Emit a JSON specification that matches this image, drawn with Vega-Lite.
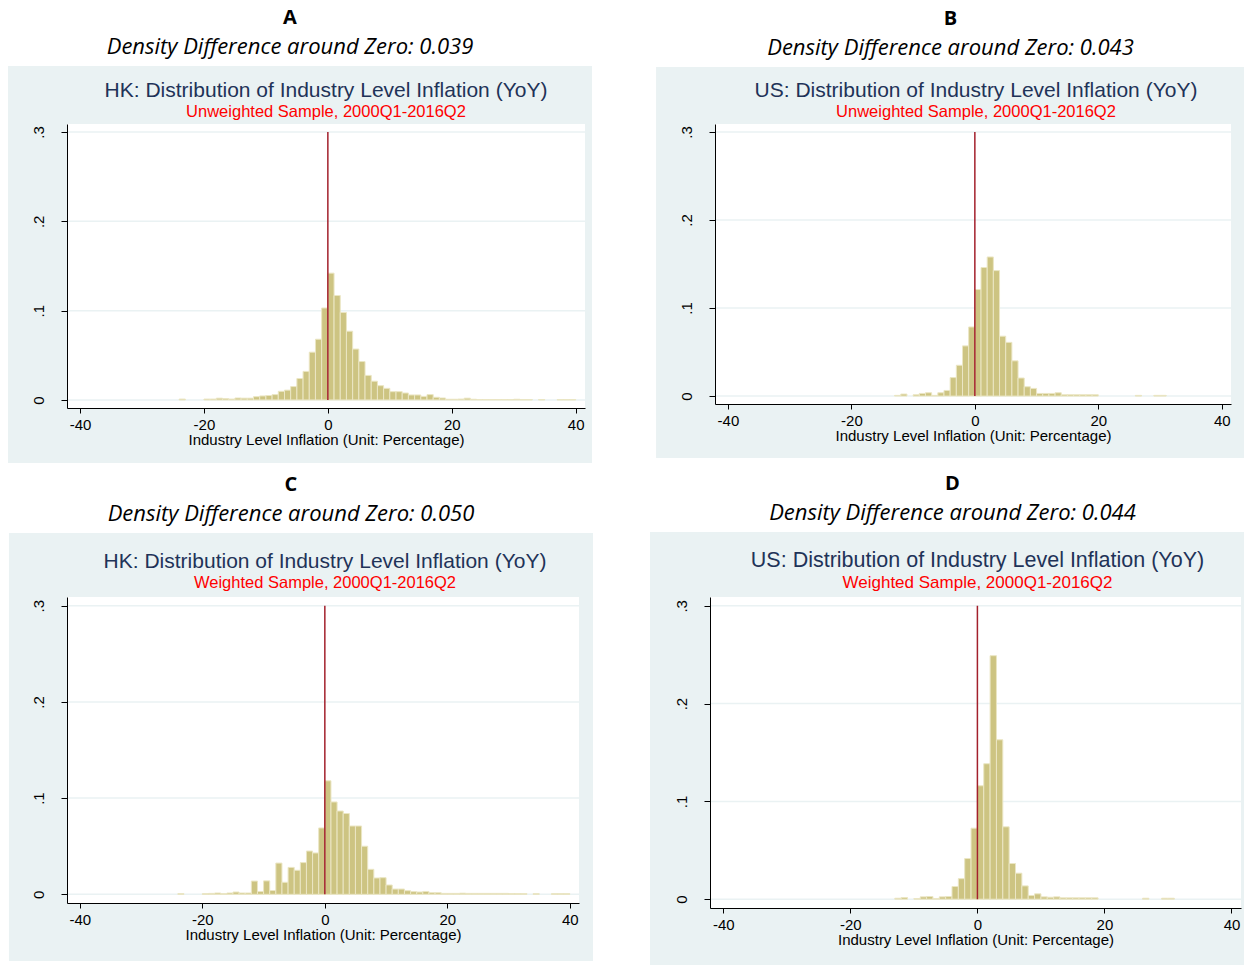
{
  "$schema": "https://vega.github.io/schema/vega-lite/v6.json",
  "background": "white",
  "padding": {"left": 8, "top": 8, "right": 0, "bottom": 0},
  "datasets": {
    "A": [
      {"lo":-24,"hi":-23,"d":0.001},{"lo":-20,"hi":-19,"d":0.001},{"lo":-19,"hi":-18,"d":0.001},{"lo":-18,"hi":-17,"d":0.002},{"lo":-17,"hi":-16,"d":0.0015},{"lo":-16,"hi":-15,"d":0.001},{"lo":-15,"hi":-14,"d":0.0022},{"lo":-14,"hi":-13,"d":0.002},{"lo":-13,"hi":-12,"d":0.002},{"lo":-12,"hi":-11,"d":0.0037},{"lo":-11,"hi":-10,"d":0.0045},{"lo":-10,"hi":-9,"d":0.005},{"lo":-9,"hi":-8,"d":0.006},{"lo":-8,"hi":-7,"d":0.0097},{"lo":-7,"hi":-6,"d":0.011},{"lo":-6,"hi":-5,"d":0.015},{"lo":-5,"hi":-4,"d":0.024},{"lo":-4,"hi":-3,"d":0.032},{"lo":-3,"hi":-2,"d":0.0535},{"lo":-2,"hi":-1,"d":0.068},{"lo":-1,"hi":0,"d":0.103},{"lo":0,"hi":1,"d":0.142},{"lo":1,"hi":2,"d":0.117},{"lo":2,"hi":3,"d":0.098},{"lo":3,"hi":4,"d":0.077},{"lo":4,"hi":5,"d":0.057},{"lo":5,"hi":6,"d":0.043},{"lo":6,"hi":7,"d":0.0275},{"lo":7,"hi":8,"d":0.021},{"lo":8,"hi":9,"d":0.016},{"lo":9,"hi":10,"d":0.013},{"lo":10,"hi":11,"d":0.0093},{"lo":11,"hi":12,"d":0.0093},{"lo":12,"hi":13,"d":0.0078},{"lo":13,"hi":14,"d":0.0056},{"lo":14,"hi":15,"d":0.0056},{"lo":15,"hi":16,"d":0.004},{"lo":16,"hi":17,"d":0.006},{"lo":17,"hi":18,"d":0.003},{"lo":18,"hi":19,"d":0.0022},{"lo":19,"hi":20,"d":0.0008},{"lo":20,"hi":21,"d":0.0008},{"lo":21,"hi":22,"d":0.001},{"lo":22,"hi":23,"d":0.002},{"lo":23,"hi":24,"d":0.0008},{"lo":24,"hi":25,"d":0.0005},{"lo":25,"hi":26,"d":0.0005},{"lo":26,"hi":27,"d":0.0005},{"lo":27,"hi":28,"d":0.0005},{"lo":28,"hi":29,"d":0.0005},{"lo":29,"hi":30,"d":0.0004},{"lo":30,"hi":31,"d":0.0008},{"lo":31,"hi":32,"d":0.0004},{"lo":32,"hi":33,"d":0.0004},{"lo":34,"hi":35,"d":0.0004},{"lo":37,"hi":38,"d":0.0004},{"lo":38,"hi":39,"d":0.0004},{"lo":39,"hi":40,"d":0.0004}
    ],
    "B": [
      {"lo":-13,"hi":-12,"d":0.0008},{"lo":-12,"hi":-11,"d":0.0023},{"lo":-10,"hi":-9,"d":0.0015},{"lo":-9,"hi":-8,"d":0.003},{"lo":-8,"hi":-7,"d":0.0038},{"lo":-7,"hi":-6,"d":0.0008},{"lo":-6,"hi":-5,"d":0.0038},{"lo":-5,"hi":-4,"d":0.0064},{"lo":-4,"hi":-3,"d":0.021},{"lo":-3,"hi":-2,"d":0.035},{"lo":-2,"hi":-1,"d":0.057},{"lo":-1,"hi":0,"d":0.0785},{"lo":0,"hi":1,"d":0.121},{"lo":1,"hi":2,"d":0.146},{"lo":2,"hi":3,"d":0.158},{"lo":3,"hi":4,"d":0.1425},{"lo":4,"hi":5,"d":0.068},{"lo":5,"hi":6,"d":0.061},{"lo":6,"hi":7,"d":0.04},{"lo":7,"hi":8,"d":0.0205},{"lo":8,"hi":9,"d":0.0106},{"lo":9,"hi":10,"d":0.0087},{"lo":10,"hi":11,"d":0.003},{"lo":11,"hi":12,"d":0.003},{"lo":12,"hi":13,"d":0.003},{"lo":13,"hi":14,"d":0.0038},{"lo":14,"hi":15,"d":0.0015},{"lo":15,"hi":16,"d":0.0015},{"lo":16,"hi":17,"d":0.0015},{"lo":17,"hi":18,"d":0.0015},{"lo":18,"hi":19,"d":0.0015},{"lo":19,"hi":20,"d":0.0015},{"lo":26,"hi":27,"d":0.0008},{"lo":29,"hi":30,"d":0.0008},{"lo":30,"hi":31,"d":0.0008}
    ],
    "C": [
      {"lo":-24,"hi":-23,"d":0.0007},{"lo":-20,"hi":-19,"d":0.0007},{"lo":-19,"hi":-18,"d":0.001},{"lo":-18,"hi":-17,"d":0.0014},{"lo":-17,"hi":-16,"d":0.0007},{"lo":-16,"hi":-15,"d":0.0014},{"lo":-15,"hi":-14,"d":0.0024},{"lo":-14,"hi":-13,"d":0.0014},{"lo":-13,"hi":-12,"d":0.0014},{"lo":-12,"hi":-11,"d":0.0138},{"lo":-11,"hi":-10,"d":0.003},{"lo":-10,"hi":-9,"d":0.014},{"lo":-9,"hi":-8,"d":0.004},{"lo":-8,"hi":-7,"d":0.0325},{"lo":-7,"hi":-6,"d":0.0125},{"lo":-6,"hi":-5,"d":0.028},{"lo":-5,"hi":-4,"d":0.025},{"lo":-4,"hi":-3,"d":0.033},{"lo":-3,"hi":-2,"d":0.045},{"lo":-2,"hi":-1,"d":0.043},{"lo":-1,"hi":0,"d":0.069},{"lo":0,"hi":1,"d":0.118},{"lo":1,"hi":2,"d":0.096},{"lo":2,"hi":3,"d":0.0866},{"lo":3,"hi":4,"d":0.084},{"lo":4,"hi":5,"d":0.071},{"lo":5,"hi":6,"d":0.071},{"lo":6,"hi":7,"d":0.05},{"lo":7,"hi":8,"d":0.026},{"lo":8,"hi":9,"d":0.017},{"lo":9,"hi":10,"d":0.0173},{"lo":10,"hi":11,"d":0.0097},{"lo":11,"hi":12,"d":0.0055},{"lo":12,"hi":13,"d":0.0055},{"lo":13,"hi":14,"d":0.0038},{"lo":14,"hi":15,"d":0.0028},{"lo":15,"hi":16,"d":0.0024},{"lo":16,"hi":17,"d":0.003},{"lo":17,"hi":18,"d":0.0017},{"lo":18,"hi":19,"d":0.0017},{"lo":19,"hi":20,"d":0.001},{"lo":20,"hi":21,"d":0.001},{"lo":21,"hi":22,"d":0.001},{"lo":22,"hi":23,"d":0.0012},{"lo":23,"hi":24,"d":0.001},{"lo":24,"hi":25,"d":0.001},{"lo":25,"hi":26,"d":0.001},{"lo":26,"hi":27,"d":0.001},{"lo":27,"hi":28,"d":0.001},{"lo":28,"hi":29,"d":0.001},{"lo":29,"hi":30,"d":0.001},{"lo":30,"hi":31,"d":0.0008},{"lo":31,"hi":32,"d":0.0008},{"lo":32,"hi":33,"d":0.0008},{"lo":34,"hi":35,"d":0.0007},{"lo":37,"hi":38,"d":0.0007},{"lo":38,"hi":39,"d":0.0007},{"lo":39,"hi":40,"d":0.0007}
    ],
    "D": [
      {"lo":-13,"hi":-12,"d":0.001},{"lo":-12,"hi":-11,"d":0.0017},{"lo":-10,"hi":-9,"d":0.0007},{"lo":-9,"hi":-8,"d":0.0024},{"lo":-8,"hi":-7,"d":0.0027},{"lo":-7,"hi":-6,"d":0.0007},{"lo":-6,"hi":-5,"d":0.0024},{"lo":-5,"hi":-4,"d":0.0027},{"lo":-4,"hi":-3,"d":0.013},{"lo":-3,"hi":-2,"d":0.021},{"lo":-2,"hi":-1,"d":0.0416},{"lo":-1,"hi":0,"d":0.0726},{"lo":0,"hi":1,"d":0.116},{"lo":1,"hi":2,"d":0.1385},{"lo":2,"hi":3,"d":0.249},{"lo":3,"hi":4,"d":0.163},{"lo":4,"hi":5,"d":0.074},{"lo":5,"hi":6,"d":0.0365},{"lo":6,"hi":7,"d":0.0266},{"lo":7,"hi":8,"d":0.0136},{"lo":8,"hi":9,"d":0.0038},{"lo":9,"hi":10,"d":0.0055},{"lo":10,"hi":11,"d":0.0024},{"lo":11,"hi":12,"d":0.002},{"lo":12,"hi":13,"d":0.0024},{"lo":13,"hi":14,"d":0.0014},{"lo":14,"hi":15,"d":0.0014},{"lo":15,"hi":16,"d":0.0014},{"lo":16,"hi":17,"d":0.0014},{"lo":17,"hi":18,"d":0.0014},{"lo":18,"hi":19,"d":0.0014},{"lo":26,"hi":27,"d":0.001},{"lo":29,"hi":30,"d":0.001},{"lo":30,"hi":31,"d":0.001}
    ]
  },
  "spacing": 10,
  "vconcat": [
    {
      "spacing": 63,
      "hconcat": [
        {
          "title": {"text": "A", "subtitle": "Density Difference around Zero: 0.039", "anchor": "middle", "frame": "bounds", "dx": -10, "offset": 8, "font": "Open Sans", "fontSize": 20, "fontWeight": "bold", "color": "#000", "subtitleFont": "Open Sans", "subtitleFontSize": 22, "subtitleFontStyle": "italic", "subtitleColor": "#000", "subtitlePadding": 9},
          "vconcat": [
            {
              "width": 518, "height": 284,
              "title": {"text": "HK: Distribution of Industry Level Inflation (YoY)", "subtitle": "Unweighted Sample, 2000Q1-2016Q2", "anchor": "middle", "frame": "group", "offset": -54, "font": "Liberation Sans", "fontSize": 21, "fontWeight": "normal", "color": "#1f3358", "subtitleFont": "Liberation Sans", "subtitleFontSize": 16.5, "subtitleColor": "#ff0000", "subtitlePadding": 3},
              "layer": [
                {"data": {"values": [{}]}, "mark": {"type": "rect", "fill": "#eaf2f3"}, "encoding": {"x": {"datum": -51.62, "type": "quantitative"}, "x2": {"datum": 42.63}, "y": {"datum": 0.3739, "type": "quantitative"}, "y2": {"datum": -0.0705}}},
                {"data": {"values": [{}]}, "mark": {"type": "rect", "fill": "#ffffff"}, "encoding": {"x": {"datum": -42.1, "type": "quantitative"}, "x2": {"datum": 41.5}, "y": {"datum": 0.309, "type": "quantitative"}, "y2": {"datum": -0.009}}},
                {"data": {"values": [{"t": 0}, {"t": 0.1}, {"t": 0.2}, {"t": 0.3}]}, "mark": {"type": "rule", "stroke": "#eaf2f3", "strokeWidth": 1.5}, "encoding": {"y": {"field": "t", "type": "quantitative"}}},
                {"data": {"name": "A"}, "mark": {"type": "rect", "fill": "#cdc482", "stroke": "#ebe6c4", "strokeWidth": 1},
                 "encoding": {
                   "x": {"field": "lo", "type": "quantitative", "title": "Industry Level Inflation (Unit: Percentage)", "scale": {"domain": [-42.1, 41.5], "nice": false, "zero": false}, "axis": {"values": [-40, -20, 0, 20, 40], "zindex": 2, "tickSize": 5, "labelPadding": 4, "titlePadding": 0, "labelExpr": "'' + datum.value"}},
                   "x2": {"field": "hi"},
                   "y": {"field": "d", "type": "quantitative", "title": " ", "scale": {"domain": [-0.009, 0.309], "nice": false, "zero": false}, "axis": {"values": [0, 0.1, 0.2, 0.3], "zindex": 2, "titleFontSize": 1, "labelAngle": -90, "tickSize": 6, "labelPadding": 15, "labelExpr": "datum.value == 0 ? '0' : replace(format(datum.value, '.1f'), '0.', '.')"}},
                   "y2": {"datum": 0}
                 }},
                {"data": {"values": [{}]}, "mark": {"type": "rule", "stroke": "#a3202c", "strokeWidth": 1.5}, "encoding": {"x": {"datum": 0, "type": "quantitative"}, "y": {"datum": 0, "type": "quantitative"}, "y2": {"datum": 0.3}}}
              ]
            }
          ]
        },
        {
          "title": {"text": "B", "subtitle": "Density Difference around Zero: 0.043", "anchor": "middle", "frame": "bounds", "dx": 0, "offset": 8, "font": "Open Sans", "fontSize": 20, "fontWeight": "bold", "color": "#000", "subtitleFont": "Open Sans", "subtitleFontSize": 22, "subtitleFontStyle": "italic", "subtitleColor": "#000", "subtitlePadding": 9},
          "vconcat": [
            {
              "width": 516, "height": 280,
              "title": {"text": "US: Distribution of Industry Level Inflation (YoY)", "subtitle": "Unweighted Sample, 2000Q1-2016Q2", "anchor": "middle", "frame": "group", "offset": -54, "dx": 3, "font": "Liberation Sans", "fontSize": 21, "fontWeight": "normal", "color": "#1f3358", "subtitleFont": "Liberation Sans", "subtitleFontSize": 16.5, "subtitleColor": "#ff0000", "subtitlePadding": 3},
              "layer": [
                {"data": {"values": [{}]}, "mark": {"type": "rect", "fill": "#eaf2f3"}, "encoding": {"x": {"datum": -51.65, "type": "quantitative"}, "x2": {"datum": 43.77}, "y": {"datum": 0.3738, "type": "quantitative"}, "y2": {"datum": -0.0704}}},
                {"data": {"values": [{}]}, "mark": {"type": "rect", "fill": "#ffffff"}, "encoding": {"x": {"datum": -42.1, "type": "quantitative"}, "x2": {"datum": 41.5}, "y": {"datum": 0.309, "type": "quantitative"}, "y2": {"datum": -0.009}}},
                {"data": {"values": [{"t": 0}, {"t": 0.1}, {"t": 0.2}, {"t": 0.3}]}, "mark": {"type": "rule", "stroke": "#eaf2f3", "strokeWidth": 1.5}, "encoding": {"y": {"field": "t", "type": "quantitative"}}},
                {"data": {"name": "B"}, "mark": {"type": "rect", "fill": "#cdc482", "stroke": "#ebe6c4", "strokeWidth": 1},
                 "encoding": {
                   "x": {"field": "lo", "type": "quantitative", "title": "Industry Level Inflation (Unit: Percentage)", "scale": {"domain": [-42.1, 41.5], "nice": false, "zero": false}, "axis": {"values": [-40, -20, 0, 20, 40], "zindex": 2, "tickSize": 5, "labelPadding": 4, "titlePadding": 0, "labelExpr": "'' + datum.value"}},
                   "x2": {"field": "hi"},
                   "y": {"field": "d", "type": "quantitative", "title": " ", "scale": {"domain": [-0.009, 0.309], "nice": false, "zero": false}, "axis": {"values": [0, 0.1, 0.2, 0.3], "zindex": 2, "titleFontSize": 1, "labelAngle": -90, "tickSize": 6, "labelPadding": 15, "labelExpr": "datum.value == 0 ? '0' : replace(format(datum.value, '.1f'), '0.', '.')"}},
                   "y2": {"datum": 0}
                 }},
                {"data": {"values": [{}]}, "mark": {"type": "rule", "stroke": "#a3202c", "strokeWidth": 1.5}, "encoding": {"x": {"datum": 0, "type": "quantitative"}, "y": {"datum": 0, "type": "quantitative"}, "y2": {"datum": 0.3}}}
              ]
            }
          ]
        }
      ]
    },
    {
      "spacing": 55,
      "hconcat": [
        {
          "title": {"text": "C", "subtitle": "Density Difference around Zero: 0.050", "anchor": "middle", "frame": "bounds", "dx": -10, "offset": 8, "font": "Open Sans", "fontSize": 20, "fontWeight": "bold", "color": "#000", "subtitleFont": "Open Sans", "subtitleFontSize": 22, "subtitleFontStyle": "italic", "subtitleColor": "#000", "subtitlePadding": 9},
          "vconcat": [
            {
              "width": 512, "height": 306,
              "title": {"text": "HK: Distribution of Industry Level Inflation (YoY)", "subtitle": "Weighted Sample, 2000Q1-2016Q2", "anchor": "middle", "frame": "group", "offset": -58, "dx": 2, "font": "Liberation Sans", "fontSize": 21, "fontWeight": "normal", "color": "#1f3358", "subtitleFont": "Liberation Sans", "subtitleFontSize": 16.5, "subtitleColor": "#ff0000", "subtitlePadding": 3},
              "layer": [
                {"data": {"values": [{}]}, "mark": {"type": "rect", "fill": "#eaf2f3"}, "encoding": {"x": {"datum": -51.58, "type": "quantitative"}, "x2": {"datum": 43.79}, "y": {"datum": 0.3755, "type": "quantitative"}, "y2": {"datum": -0.0692}}},
                {"data": {"values": [{}]}, "mark": {"type": "rect", "fill": "#ffffff"}, "encoding": {"x": {"datum": -42.1, "type": "quantitative"}, "x2": {"datum": 41.5}, "y": {"datum": 0.309, "type": "quantitative"}, "y2": {"datum": -0.009}}},
                {"data": {"values": [{"t": 0}, {"t": 0.1}, {"t": 0.2}, {"t": 0.3}]}, "mark": {"type": "rule", "stroke": "#eaf2f3", "strokeWidth": 1.5}, "encoding": {"y": {"field": "t", "type": "quantitative"}}},
                {"data": {"name": "C"}, "mark": {"type": "rect", "fill": "#cdc482", "stroke": "#ebe6c4", "strokeWidth": 1},
                 "encoding": {
                   "x": {"field": "lo", "type": "quantitative", "title": "Industry Level Inflation (Unit: Percentage)", "scale": {"domain": [-42.1, 41.5], "nice": false, "zero": false}, "axis": {"values": [-40, -20, 0, 20, 40], "zindex": 2, "tickSize": 5, "labelPadding": 4, "titlePadding": 0, "labelExpr": "'' + datum.value"}},
                   "x2": {"field": "hi"},
                   "y": {"field": "d", "type": "quantitative", "title": " ", "scale": {"domain": [-0.009, 0.309], "nice": false, "zero": false}, "axis": {"values": [0, 0.1, 0.2, 0.3], "zindex": 2, "titleFontSize": 1, "labelAngle": -90, "tickSize": 6, "labelPadding": 15, "labelExpr": "datum.value == 0 ? '0' : replace(format(datum.value, '.1f'), '0.', '.')"}},
                   "y2": {"datum": 0}
                 }},
                {"data": {"values": [{}]}, "mark": {"type": "rule", "stroke": "#a3202c", "strokeWidth": 1.5}, "encoding": {"x": {"datum": 0, "type": "quantitative"}, "y": {"datum": 0, "type": "quantitative"}, "y2": {"datum": 0.3}}}
              ]
            }
          ]
        },
        {
          "title": {"text": "D", "subtitle": "Density Difference around Zero: 0.044", "anchor": "middle", "frame": "bounds", "dx": 4, "offset": 8, "font": "Open Sans", "fontSize": 20, "fontWeight": "bold", "color": "#000", "subtitleFont": "Open Sans", "subtitleFontSize": 22, "subtitleFontStyle": "italic", "subtitleColor": "#000", "subtitlePadding": 9},
          "vconcat": [
            {
              "width": 531, "height": 311,
              "title": {"text": "US: Distribution of Industry Level Inflation (YoY)", "subtitle": "Weighted Sample, 2000Q1-2016Q2", "anchor": "middle", "frame": "group", "offset": -59, "dx": 2, "font": "Liberation Sans", "fontSize": 21.5, "fontWeight": "normal", "color": "#1f3358", "subtitleFont": "Liberation Sans", "subtitleFontSize": 17, "subtitleColor": "#ff0000", "subtitlePadding": 3},
              "layer": [
                {"data": {"values": [{}]}, "mark": {"type": "rect", "fill": "#eaf2f3"}, "encoding": {"x": {"datum": -51.55, "type": "quantitative"}, "x2": {"datum": 42.44}, "y": {"datum": 0.3755, "type": "quantitative"}, "y2": {"datum": -0.0684}}},
                {"data": {"values": [{}]}, "mark": {"type": "rect", "fill": "#ffffff"}, "encoding": {"x": {"datum": -42.1, "type": "quantitative"}, "x2": {"datum": 41.5}, "y": {"datum": 0.309, "type": "quantitative"}, "y2": {"datum": -0.009}}},
                {"data": {"values": [{"t": 0}, {"t": 0.1}, {"t": 0.2}, {"t": 0.3}]}, "mark": {"type": "rule", "stroke": "#eaf2f3", "strokeWidth": 1.5}, "encoding": {"y": {"field": "t", "type": "quantitative"}}},
                {"data": {"name": "D"}, "mark": {"type": "rect", "fill": "#cdc482", "stroke": "#ebe6c4", "strokeWidth": 1},
                 "encoding": {
                   "x": {"field": "lo", "type": "quantitative", "title": "Industry Level Inflation (Unit: Percentage)", "scale": {"domain": [-42.1, 41.5], "nice": false, "zero": false}, "axis": {"values": [-40, -20, 0, 20, 40], "zindex": 2, "tickSize": 5, "labelPadding": 4, "titlePadding": 0, "labelExpr": "'' + datum.value"}},
                   "x2": {"field": "hi"},
                   "y": {"field": "d", "type": "quantitative", "title": " ", "scale": {"domain": [-0.009, 0.309], "nice": false, "zero": false}, "axis": {"values": [0, 0.1, 0.2, 0.3], "zindex": 2, "titleFontSize": 1, "labelAngle": -90, "tickSize": 6, "labelPadding": 15, "labelExpr": "datum.value == 0 ? '0' : replace(format(datum.value, '.1f'), '0.', '.')"}},
                   "y2": {"datum": 0}
                 }},
                {"data": {"values": [{}]}, "mark": {"type": "rule", "stroke": "#a3202c", "strokeWidth": 1.5}, "encoding": {"x": {"datum": 0, "type": "quantitative"}, "y": {"datum": 0, "type": "quantitative"}, "y2": {"datum": 0.3}}}
              ]
            }
          ]
        }
      ]
    }
  ],
  "config": {
    "view": {"stroke": null},
    "axis": {"grid": false, "domainColor": "#000", "domainWidth": 1, "tickColor": "#000", "tickWidth": 1, "labelColor": "#000", "labelFont": "Liberation Sans", "labelFontSize": 15, "titleFont": "Liberation Sans", "titleFontSize": 15, "titleFontWeight": "normal", "titleColor": "#000", "labelOverlap": false, "labelFlush": false}
  }
}
